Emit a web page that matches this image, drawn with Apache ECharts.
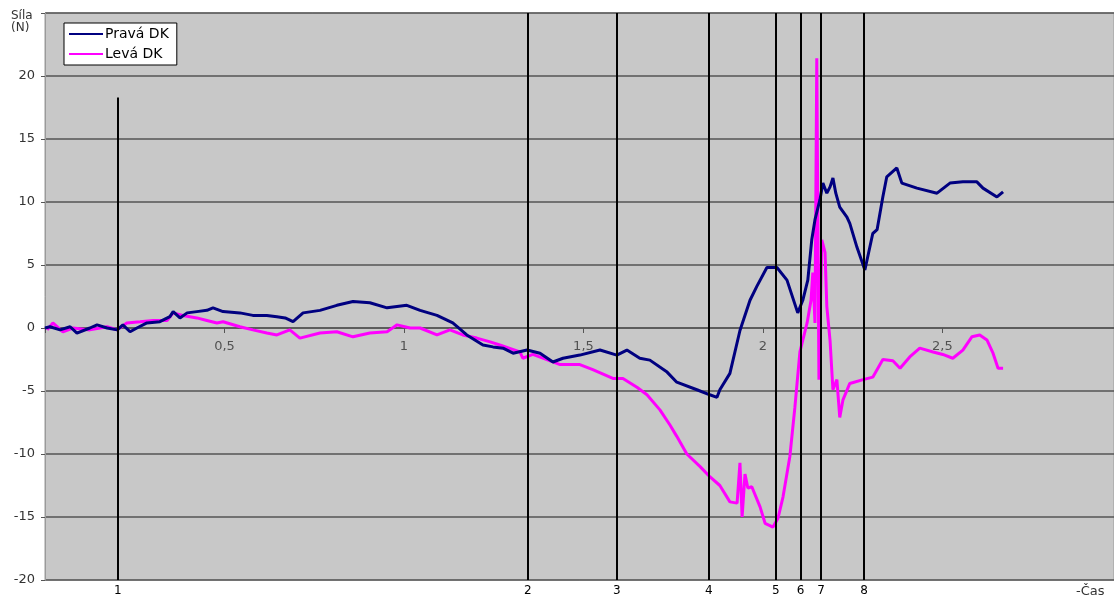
<!DOCTYPE html>
<html>
<head>
<meta charset="utf-8">
<script src="https://cdn.jsdelivr.net/npm/echarts@6/dist/echarts.min.js"></script>
<style>
html,body{margin:0;padding:0;background:#fff;}
#chart{width:1114px;height:597px;}
</style>
</head>
<body>
<div id="chart"></div>
<script>
// Čas [s], Síla [N]
var pravaDK = [
[0,0],[0.014,0.1],[0.042,-0.15],[0.070,0.1],[0.089,-0.4],[0.125,0],[0.145,0.25],[0.173,0],[0.201,-0.15],[0.217,0.25],
[0.237,-0.3],[0.256,0],[0.284,0.4],[0.320,0.5],[0.348,0.9],[0.357,1.3],[0.376,0.8],[0.396,1.2],[0.423,1.3],[0.451,1.4],
[0.468,1.6],[0.496,1.3],[0.543,1.2],[0.579,1.0],[0.618,1.0],[0.646,0.9],[0.669,0.8],[0.691,0.5],[0.719,1.2],[0.766,1.4],
[0.813,1.8],[0.858,2.1],[0.905,2.0],[0.953,1.6],[1.008,1.8],[1.045,1.4],[1.092,1.0],[1.136,0.4],[1.175,-0.55],[1.220,-1.35],
[1.248,-1.5],[1.276,-1.6],[1.304,-2.0],[1.343,-1.75],[1.379,-2.0],[1.415,-2.7],[1.443,-2.4],[1.490,-2.15],[1.546,-1.75],[1.593,-2.15],
[1.621,-1.75],[1.657,-2.4],[1.685,-2.55],[1.733,-3.5],[1.760,-4.3],[1.816,-4.9],[1.852,-5.3],[1.872,-5.5],[1.880,-4.9],[1.908,-3.6],
[1.936,-0.2],[1.964,2.2],[1.983,3.3],[2.011,4.8],[2.039,4.8],[2.067,3.8],[2.097,1.2],[2.111,2.2],[2.125,3.8],[2.136,7.0],
[2.145,8.6],[2.159,10.2],[2.167,11.5],[2.178,10.7],[2.187,11.2],[2.195,11.9],[2.203,10.7],[2.214,9.6],[2.234,8.8],[2.242,8.3],
[2.262,6.4],[2.284,4.6],[2.306,7.5],[2.318,7.8],[2.334,10.4],[2.345,12.0],[2.373,12.7],[2.387,11.5],[2.429,11.1],[2.485,10.7],
[2.521,11.5],[2.557,11.6],[2.596,11.6],[2.613,11.1],[2.652,10.4],[2.669,10.8]
];
var levaDK = [
[0.006,-0.15],[0.022,0.4],[0.050,-0.3],[0.078,0],[0.125,-0.15],[0.173,0.1],[0.201,-0.15],[0.228,0.4],[0.265,0.5],[0.301,0.6],
[0.340,0.6],[0.357,1.2],[0.384,1.0],[0.423,0.8],[0.451,0.6],[0.479,0.4],[0.496,0.5],[0.543,0.1],[0.579,-0.15],[0.618,-0.4],
[0.646,-0.55],[0.682,-0.15],[0.710,-0.8],[0.766,-0.4],[0.813,-0.3],[0.858,-0.7],[0.905,-0.4],[0.953,-0.3],[0.981,0.25],[1.017,0],
[1.045,0],[1.092,-0.55],[1.128,-0.15],[1.164,-0.55],[1.203,-0.8],[1.240,-1.1],[1.267,-1.35],[1.323,-1.9],[1.331,-2.4],[1.359,-2.1],
[1.435,-2.9],[1.490,-2.9],[1.526,-3.3],[1.582,-4.0],[1.610,-4.0],[1.649,-4.7],[1.677,-5.3],[1.713,-6.5],[1.741,-7.7],[1.760,-8.6],
[1.788,-10.0],[1.825,-11.0],[1.852,-11.8],[1.880,-12.5],[1.908,-13.8],[1.928,-13.9],[1.936,-10.7],[1.942,-15.0],[1.950,-11.6],[1.958,-12.7],
[1.969,-12.6],[1.992,-14.2],[2.006,-15.5],[2.028,-15.8],[2.042,-15.1],[2.056,-13.4],[2.075,-10.2],[2.089,-6.3],[2.103,-1.9],[2.123,0.4],
[2.134,2.2],[2.139,4.4],[2.145,0.4],[2.150,21.4],[2.156,-4.1],[2.164,7.0],[2.173,6.0],[2.178,1.7],[2.187,-1.0],[2.195,-4.9],
[2.206,-4.1],[2.214,-7.1],[2.223,-5.7],[2.242,-4.4],[2.279,-4.1],[2.306,-3.9],[2.334,-2.5],[2.362,-2.6],[2.382,-3.2],[2.409,-2.3],
[2.437,-1.6],[2.474,-1.9],[2.501,-2.1],[2.529,-2.4],[2.557,-1.75],[2.582,-0.7],[2.604,-0.55],[2.624,-0.95],[2.641,-2.0],[2.655,-3.2],
[2.669,-3.2]
];
var eventTimes  = [0.203, 1.345, 1.593, 1.849, 2.036, 2.105, 2.162, 2.282];
var eventLabels = ['1','2','3','4','5','6','7','8'];
var eventTops   = [18.3, 25, 25, 25, 25, 25, 25, 25];
var xTickValues = [0.5, 1, 1.5, 2, 2.5];
var seriesNames = ['Pravá DK', 'Levá DK'];

var FONT = 'DejaVu Sans, Liberation Sans, Arial, sans-serif';

var markData = eventTimes.map(function (t, i) {
  return [
    {name: eventLabels[i], coord: [t, -20]},
    {coord: [t, eventTops[i]]}
  ];
});

var chart = echarts.init(document.getElementById('chart'));
chart.setOption({
  animation: false,
  textStyle: {fontFamily: FONT},
  grid: {left: 45, right: 0, top: 13, bottom: 17, show: true, outerBoundsMode: 'none',
         containLabel: false,
         backgroundColor: '#c8c8c8', borderColor: '#9a9a9a', borderWidth: 1},
  legend: {
    orient: 'vertical', left: 64, top: 23,
    backgroundColor: '#fff', borderColor: '#000', borderWidth: 1,
    padding: [4, 8, 4, 5], itemGap: 6, itemWidth: 34, itemHeight: 2, icon: 'rect',
    textStyle: {color: '#000', fontSize: 14, fontFamily: FONT, padding: [0, 0, 0, -3]},
    data: seriesNames
  },
  xAxis: {
    type: 'value', min: 0, max: 2.978, interval: 0.5,
    axisLine: {onZero: true, lineStyle: {color: '#555', width: 1.5}},
    axisTick: {show: true, length: 5, lineStyle: {color: '#555'}},
    axisLabel: {show: false},
    splitLine: {show: false}
  },
  yAxis: {
    type: 'value', min: -20, max: 25, interval: 5,
    axisLine: {show: true, lineStyle: {color: '#9a9a9a'}},
    axisTick: {show: true, length: 4, lineStyle: {color: '#555'}},
    axisLabel: {margin: 10, color: '#333', fontSize: 13, fontFamily: FONT,
      formatter: function (v) { return v === 25 ? '' : v; }},
    splitLine: {show: true, lineStyle: {color: '#555', width: 1.5}}
  },
  graphic: [
    {type: 'text', left: 11, top: 10, style: {text: 'Síla\n(N)', fill: '#333', font: '12px DejaVu Sans', lineHeight: 12, align: 'center'}},
    {type: 'text', left: 1076, top: 585, style: {text: '-Čas', fill: '#333', font: '13px DejaVu Sans'}}
  ],
  series: [
    {name: seriesNames[0], type: 'line', data: pravaDK, showSymbol: false, symbol: 'none',
     lineStyle: {color: '#000080', width: 3}, itemStyle: {color: '#000080'}, z: 3},
    {name: seriesNames[1], type: 'line', data: levaDK, showSymbol: false, symbol: 'none',
     lineStyle: {color: '#ff00ff', width: 3}, itemStyle: {color: '#ff00ff'}, z: 2},
    {name: 'xlabels', type: 'scatter', silent: true, symbol: 'circle', symbolSize: 2, z: 4,
     itemStyle: {color: 'rgba(0,0,0,0)'},
     data: xTickValues.map(function (v) { return [v, 0]; }),
     label: {show: true, position: 'bottom', distance: 11, color: '#333', fontSize: 13, fontFamily: FONT,
       formatter: function (p) { return String(p.value[0]).replace('.', ','); }}},
    {name: 'events', type: 'line', data: [], z: 5,
     markLine: {silent: true, symbol: ['none', 'none'], animation: false,
       lineStyle: {color: '#000', width: 2, type: 'solid'},
       label: {show: true, position: 'start', formatter: '{b}', color: '#000', fontSize: 12, fontFamily: FONT, distance: 5},
       emphasis: {disabled: true},
       data: markData}}
  ]
});
</script>
</body>
</html>
